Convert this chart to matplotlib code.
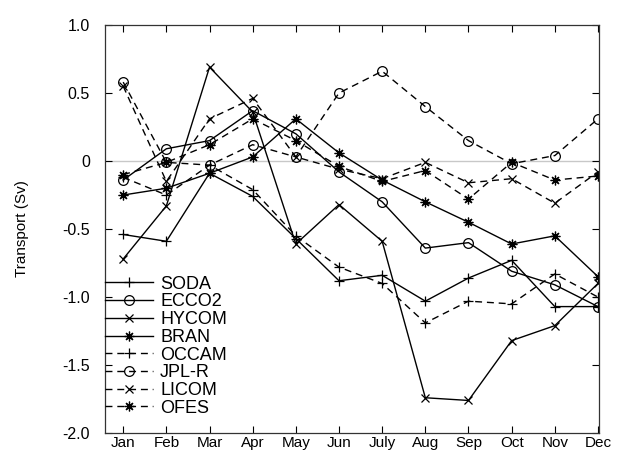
import matplotlib
matplotlib.use("Agg")
import matplotlib.pyplot as plt

plt.rcParams['font.family'] = ['Liberation Sans', 'DejaVu Sans']

months = ["Jan", "Feb", "Mar", "Apr", "May", "Jun", "July", "Aug", "Sep", "Oct", "Nov", "Dec"]

soda  = [-0.54, -0.59, -0.09, -0.26, -0.57, -0.88, -0.84, -1.03, -0.86, -0.73, -1.07, -1.07]
ecco2 = [-0.14, 0.09, 0.15, 0.37, 0.20, -0.08, -0.30, -0.64, -0.60, -0.81, -0.91, -1.07]
hycom = [-0.72, -0.33, 0.69, 0.36, -0.61, -0.32, -0.59, -1.74, -1.76, -1.32, -1.21, -0.90]
bran  = [-0.25, -0.20, -0.09, 0.03, 0.31, 0.06, -0.14, -0.30, -0.45, -0.61, -0.55, -0.85]
occam = [-0.12, -0.25, -0.03, -0.21, -0.55, -0.78, -0.90, -1.19, -1.03, -1.05, -0.83, -1.00]
jplr  = [0.58, -0.01, -0.03, 0.12, 0.03, 0.50, 0.66, 0.40, 0.15, -0.02, 0.04, 0.31]
licom = [0.55, -0.15, 0.31, 0.46, 0.03, -0.06, -0.13, -0.01, -0.16, -0.13, -0.31, -0.08]
ofes  = [-0.10, -0.01, 0.12, 0.31, 0.15, -0.04, -0.15, -0.07, -0.28, -0.01, -0.14, -0.11]

series = [
    ("SODA", soda, "+", "-"),
    ("ECCO2", ecco2, "o", "-"),
    ("HYCOM", hycom, "x", "-"),
    ("BRAN", bran, (8, 2, 0), "-"),
    ("OCCAM", occam, "+", "--"),
    ("JPL-R", jplr, "o", "--"),
    ("LICOM", licom, "x", "--"),
    ("OFES", ofes, (8, 2, 0), "--"),
]

yticks = [1.0, 0.5, 0.0, -0.5, -1.0, -1.5, -2.0]
yticklabels = ["1.0", "0.5", "0", "-0.5", "-1.0", "-1.5", "-2.0"]

fig = plt.figure(figsize=(6.18, 4.54), dpi=100)
ax = fig.add_axes([0.170, 0.046, 0.799, 0.899])

x = list(range(1, len(months) + 1))
ax.axhline(0, color="#c8c8c8", lw=1.0, zorder=0)

for name, vals, mk, ls in series:
    kw = dict(color="black", lw=1.0, marker=mk, label=name,
              markerfacecolor="none", markeredgecolor="black", markeredgewidth=0.9)
    if mk == "o":
        kw["markersize"] = 7
    elif mk == "x":
        kw["markersize"] = 6
    else:
        kw["markersize"] = 7
    if ls == "--":
        kw["linestyle"] = (0, (5, 3.5))
    else:
        kw["linestyle"] = "-"
    ax.plot(x, vals, **kw)

ax.set_xlim(0.58, 12.02)
ax.set_ylim(-2.0, 1.0)
ax.set_xticks(x)
ax.set_xticklabels(months, fontsize=11)
ax.set_yticks(yticks)
ax.set_yticklabels(yticklabels, fontsize=11.5)
ax.tick_params(direction="in", top=True, right=True, length=5, width=0.8)
ax.tick_params(axis="y", pad=11)
ax.tick_params(axis="x", pad=2)
for sp in ax.spines.values():
    sp.set_linewidth(0.9)
    sp.set_color("#333333")
ax.set_ylabel("Transport (Sv)", fontsize=11, labelpad=24)

leg = ax.legend(loc="lower left", bbox_to_anchor=(0.0, 0.04), frameon=False,
                fontsize=13, handlelength=2.65, handletextpad=0.4,
                labelspacing=0.04, borderaxespad=0.0, borderpad=0.0)

fig.savefig("out.png", dpi=100)
